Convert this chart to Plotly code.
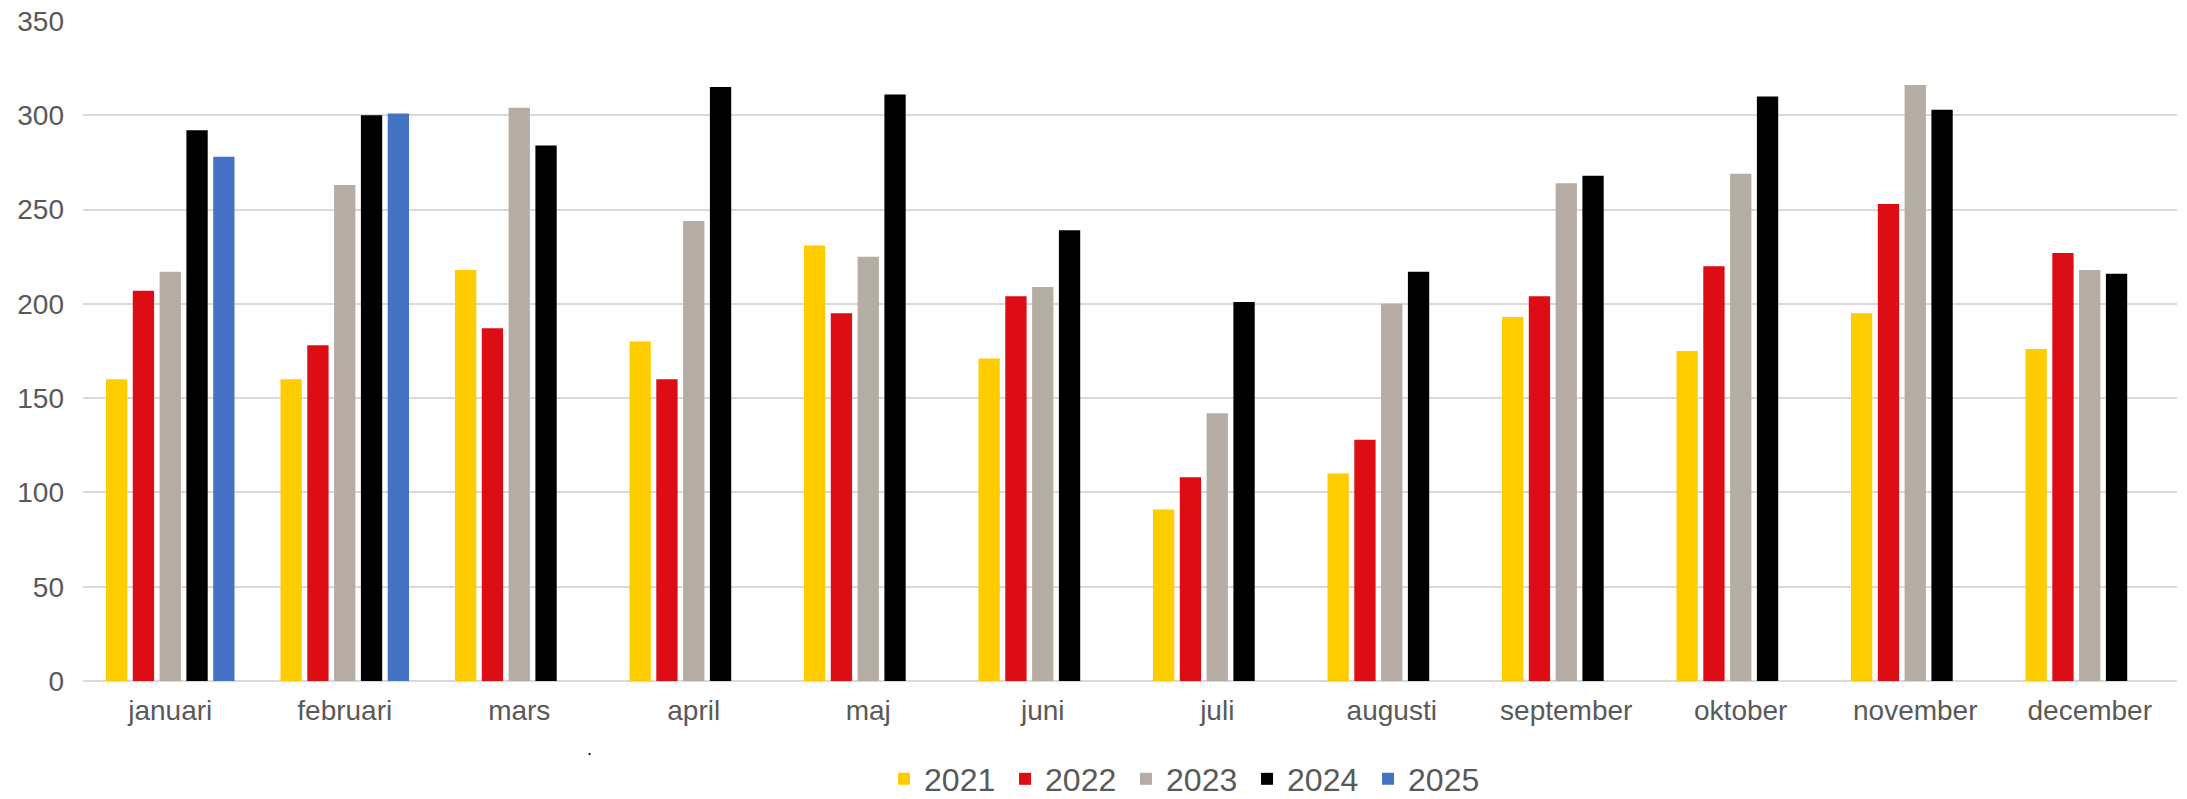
import plotly.graph_objects as go

months = ["januari", "februari", "mars", "april", "maj", "juni", "juli",
          "augusti", "september", "oktober", "november", "december"]

y2021 = [160, 160, 218, 180, 231, 171, 91, 110, 193, 175, 195, 176]
y2022 = [207, 178, 187, 160, 195, 204, 108, 128, 204, 220, 253, 227]
y2023 = [217, 263, 304, 244, 225, 209, 142, 200, 264, 269, 316, 218]
y2024 = [292, 300, 284, 315, 311, 239, 201, 217, 268, 310, 303, 216]
y2025 = [278, 301, None, None, None, None, None, None, None, None, None, None]

series = [
    ("2021", y2021, "#FFCC00"),
    ("2022", y2022, "#DC0D15"),
    ("2023", y2023, "#B5ADA3"),
    ("2024", y2024, "#000000"),
    ("2025", y2025, "#4472C4"),
]

fig = go.Figure()
for name, vals, col in series:
    fig.add_trace(go.Bar(x=months, y=vals, name=name, marker=dict(color=col, line=dict(width=0))))

font = "Liberation Sans, Arial, sans-serif"
fig.update_layout(
    width=2187, height=799,
    margin=dict(l=83, r=10, t=21, b=118, autoexpand=False),
    paper_bgcolor="white", plot_bgcolor="white",
    barmode="group", bargap=0.232, bargroupgap=0.205,
    font=dict(family=font, color="#595959", size=28),
    showlegend=True,
    legend=dict(orientation="h", x=0.527, xanchor="center",
                yref="container", y=0.025, yanchor="middle",
                font=dict(size=32, color="#595959"), bgcolor="rgba(0,0,0,0)",
                itemwidth=30, traceorder="normal",
                entrywidth=76, entrywidthmode="pixels"),
    xaxis=dict(showgrid=False, showline=False, ticks="", automargin=False,
               ticklabelstandoff=10, tickfont=dict(size=28, color="#595959")),
    yaxis=dict(range=[0, 350], dtick=50, showgrid=True, gridcolor="#D9D9D9", gridwidth=1.5,
               zeroline=True, zerolinecolor="#D9D9D9", zerolinewidth=1.5,
               showline=False, ticks="", ticklabelstandoff=18, automargin=False,
               tickfont=dict(size=28, color="#595959")),
    annotations=[dict(text=".", x=0.2397, y=-0.121, xref="paper", yref="paper",
                      showarrow=False, font=dict(size=18, color="#000000"))],
)

fig.write_html("out.html",
               config={"displayModeBar": False},
               post_script="document.body.style.margin='0';document.body.style.overflow='hidden';")
